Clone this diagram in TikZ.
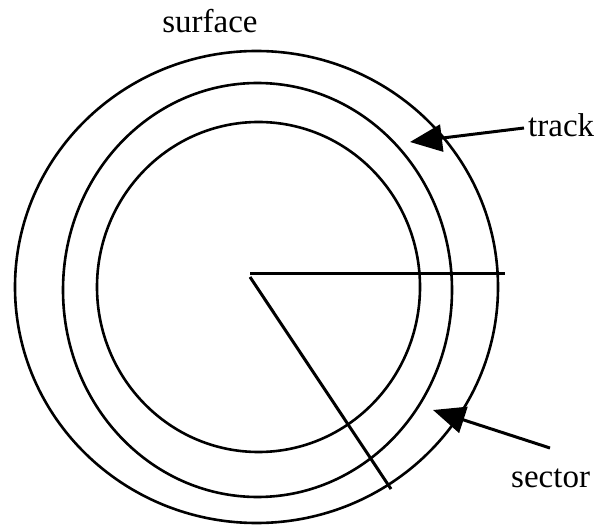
\documentclass[tikz,border=0pt]{standalone}
\usepackage{fontspec}
\setmainfont{Liberation Serif}
\usetikzlibrary{arrows.meta}
\begin{document}
\begin{tikzpicture}[x=1pt,y=-1pt,
  ring/.style={line width=2.6pt},
  radial/.style={line width=3pt},
  lbl/.style={inner sep=0pt, font=\fontsize{33}{36}\selectfont},
  pointer/.style={line width=3pt, -{Triangle[length=32pt,width=27pt]}}]
\useasboundingbox (0,0) rectangle (600,529);
% disk
\draw[ring] (256.5,287) ellipse [x radius=241.5pt, y radius=236pt];
\draw[ring] (257.5,290) ellipse [x radius=194.5pt, y radius=207pt];
\draw[ring] (258.5,287) ellipse [x radius=161.5pt, y radius=165pt];
% sector lines
\coordinate (c1) at (250,274);
\coordinate (e1) at (505,274);
\coordinate (c2) at (250,277);
\coordinate (e2) at (391,489);
\draw[radial] (c1) -- (e1);
\draw[radial] (c2) -- (e2);
% labels
\node[lbl, anchor=base] (surface) at (210,33) {surface};
\node[lbl, anchor=base west] (track) at (528,137) {track};
\node[lbl, anchor=base west] (sector) at (511,487) {sector};
% pointers
\coordinate (ts) at (524,128);
\coordinate (tt) at (410,142);
\coordinate (ss) at (550,448);
\coordinate (st) at (433,410);
\draw[pointer] (ts) -- (tt);
\draw[pointer] (ss) -- (st);
\end{tikzpicture}
\end{document}
